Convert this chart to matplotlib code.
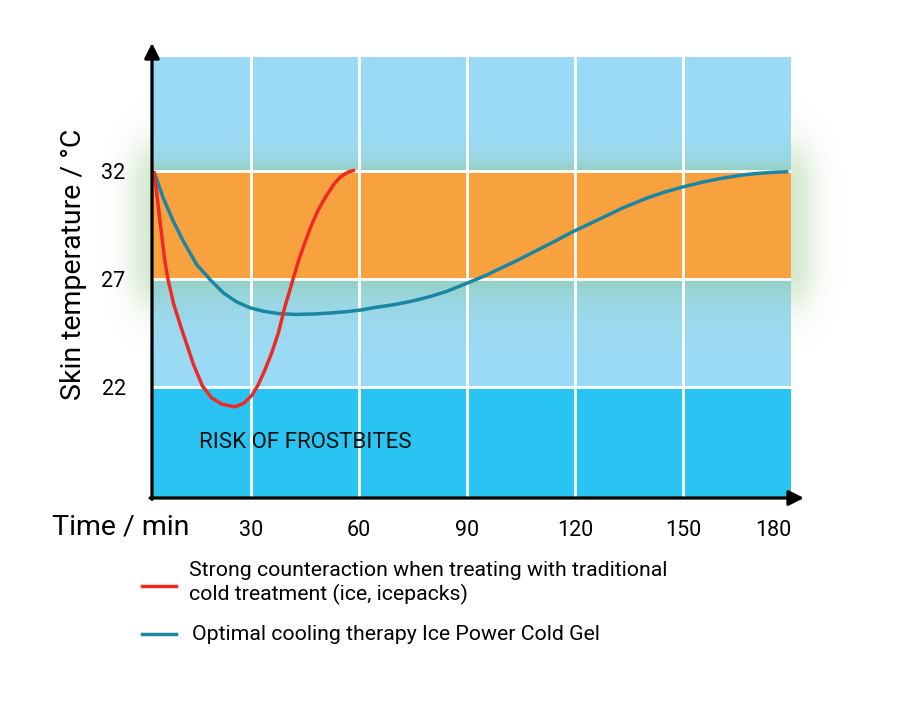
import numpy as np
import matplotlib
matplotlib.use("Agg")
import matplotlib.pyplot as plt
from matplotlib.lines import Line2D
from matplotlib.colors import to_rgb

plt.rcParams['font.family'] = ['Roboto', 'DejaVu Sans']

# ---- data ----
time_ticks = [30, 60, 90, 120, 150, 180]
temp_ticks = [22, 27, 32]

red_t = [3.0, 4.0, 5.0, 6.0, 7.0, 8.5, 10.3, 12.0, 14.0, 16.5, 19.0, 22.0, 25.6,
         28.0, 30.2, 32.0, 33.9, 35.8, 37.6, 39.4, 41.8, 43.3, 45.0, 46.8, 48.7,
         50.0, 51.5, 53.3, 55.0, 57.0, 58.9]
red_v = [32.0, 30.7, 29.3, 27.9, 26.95, 25.85, 24.9, 24.05, 23.05, 22.05, 21.5,
         21.2, 21.08, 21.25, 21.6, 22.1, 22.8, 23.6, 24.5, 25.7, 27.06, 27.9, 28.7,
         29.5, 30.2, 30.6, 31.0, 31.45, 31.75, 31.95, 32.05]

teal_t = [2.6, 3.3, 5.6, 8.4, 11.2, 14.9, 18.6, 22.3, 26.0, 29.7, 33.4, 37.6, 42.2,
          47.3, 51.5, 56.0, 60.3, 64.4, 70.0, 75.1, 80.0, 84.4, 89.9, 95.0, 100.0,
          103.8, 110.3, 115.0, 119.5, 125.0, 133.4, 140.0, 145.0, 150.1, 155.0,
          160.0, 165.8, 170.0, 175.0, 179.3]
teal_v = [32.0, 31.84, 30.76, 29.68, 28.75, 27.67, 26.98, 26.36, 25.94, 25.67,
          25.51, 25.4, 25.36, 25.38, 25.42, 25.48, 25.56, 25.68, 25.82, 25.99,
          26.2, 26.43, 26.8, 27.15, 27.55, 27.85, 28.4, 28.8, 29.2, 29.63, 30.3,
          30.75, 31.03, 31.27, 31.47, 31.64, 31.8, 31.88, 31.94, 31.97]

red_label = "Strong counteraction when treating with traditional\ncold treatment (ice, icepacks)"
teal_label = "Optimal cooling therapy Ice Power Cold Gel"

XMIN, XMAX = 2.5, 180
YMIN, YMAX = 16.86, 37.28

C_ORANGE = "#F7A13F"
C_LBLUE = "#9CDBF6"
C_DBLUE = "#2AC4F2"
C_GREEN = "#97CFBE"
C_RED = "#EE2A26"
C_TEAL = "#1B86A4"

W, H = 900, 725
fig = plt.figure(figsize=(9, 7.25), dpi=100)

# ---- glow behind plot (outside the axes) ----
gax = fig.add_axes([0, 0, 1, 1], zorder=0)
gax.set_axis_off()
yy, xx = np.mgrid[0:H, 0:W]
glow = np.zeros((H, W, 4))
gcol = np.array([0.58, 0.78, 0.52])
vy = np.exp(-(np.maximum(np.abs(yy - 225) - 45, 0) / 40.0) ** 2)
a = 0.38 * np.exp(-((xx - 152) / 24.0) ** 2) * vy
a += 0.38 * np.exp(-((xx - 791) / 24.0) ** 2) * vy
glow[..., :3] = gcol
glow[..., 3] = np.clip(a, 0, 1)
gax.imshow(glow, extent=[0, W, H, 0], aspect='auto')
gax.set_xlim(0, W)
gax.set_ylim(H, 0)

# ---- main axes ----
ax = fig.add_axes([152 / W, 1 - 498 / H, (791 - 152) / W, (498 - 57) / H], zorder=1)
ax.set_xlim(XMIN, XMAX)
ax.set_ylim(YMIN, YMAX)

# background bands with gradients
ys = np.linspace(YMAX, YMIN, 1200)
lb, og, db, gr = (np.array(to_rgb(c)) for c in (C_LBLUE, C_ORANGE, C_DBLUE, C_GREEN))
rows = []
for y in ys:
    if y >= 32:
        f = np.exp(-(y - 32) / 0.55)
        rows.append(lb * (1 - f) + gr * f)
    elif y >= 27:
        rows.append(og)
    elif y >= 22:
        f = np.exp(-(27 - y) / 1.1)
        rows.append(lb * (1 - f) + gr * f)
    else:
        rows.append(db)
img = np.array(rows)[:, None, :]
ax.imshow(img, extent=[XMIN, XMAX, YMIN, YMAX], aspect='auto',
          interpolation='nearest', zorder=0)

for t in time_ticks[:-1]:
    ax.axvline(t, color='white', lw=2, zorder=1)
for v in temp_ticks:
    ax.axhline(v, color='white', lw=2, zorder=1)

ax.plot(teal_t, teal_v, color=C_TEAL, lw=2.5, zorder=3, solid_capstyle='butt',
        solid_joinstyle='round')
ax.plot(red_t, red_v, color=C_RED, lw=2.5, zorder=4, solid_capstyle='butt',
        solid_joinstyle='round')

ax.text(15.6, 19.43, "RISK OF FROSTBITES", fontsize=16, color='#111111',
        va='center', ha='left', zorder=5)

for s in ax.spines.values():
    s.set_visible(False)

ax.set_xticks(time_ticks)
ax.set_xticklabels([str(t) for t in time_ticks], fontsize=15.5)
ax.set_yticks(temp_ticks)
ax.set_yticklabels([str(v) for v in temp_ticks], fontsize=15.5)
ax.tick_params(axis='both', length=0)
ax.tick_params(axis='x', pad=16)
ax.tick_params(axis='y', pad=19)
ax.get_xticklabels()[-1].set_ha('right')

# axis arrows
ax.annotate('', xy=(0, 1 + 14 / 441), xytext=(0, -0.003), xycoords='axes fraction',
            arrowprops=dict(arrowstyle='-|>,head_length=0.9,head_width=0.45',
                            lw=2.3, color='black', shrinkA=0, shrinkB=0),
            annotation_clip=False, zorder=6)
ax.annotate('', xy=(1 + 13 / 639, 0), xytext=(-0.003, 0), xycoords='axes fraction',
            arrowprops=dict(arrowstyle='-|>,head_length=0.9,head_width=0.45',
                            lw=2.3, color='black', shrinkA=0, shrinkB=0),
            annotation_clip=False, zorder=6)

# axis titles
fig.text(74 / W, 1 - 264 / H, "Skin temperature / °C", rotation=90, fontsize=20.5,
         ha='center', va='center')
fig.text(52 / W, 1 - 527 / H, "Time / min", fontsize=20.5, ha='left', va='center')

# legend
fig.add_artist(Line2D([142 / W, 176 / W], [1 - 586 / H] * 2, color=C_RED, lw=2.5))
fig.add_artist(Line2D([142 / W, 176 / W], [1 - 634 / H] * 2, color=C_TEAL, lw=2.5))
fig.text(189 / W, 1 - 583 / H, red_label, fontsize=15.3, ha='left', va='center',
         linespacing=1.25)
fig.text(192 / W, 1 - 635 / H, teal_label, fontsize=15.3, ha='left', va='center')

fig.savefig("out.png", dpi=100)
